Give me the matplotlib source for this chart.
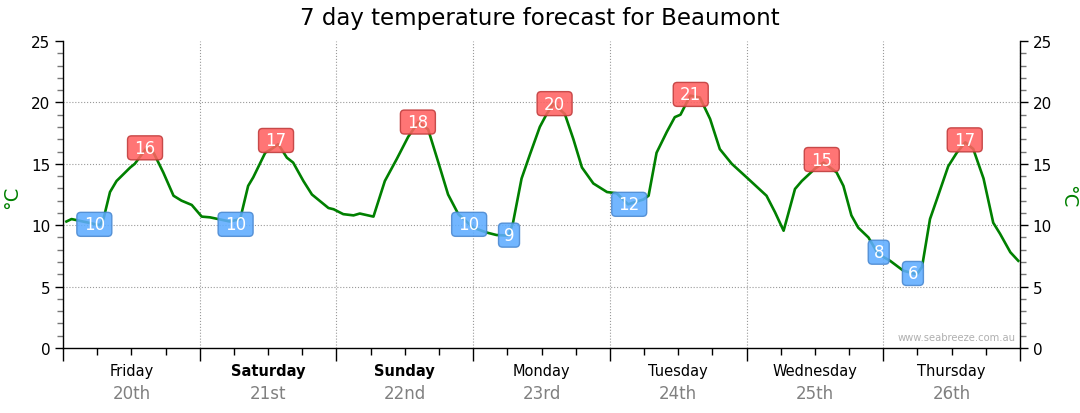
import matplotlib
matplotlib.use("Agg")
import matplotlib.pyplot as plt
import matplotlib.transforms as mtransforms
from matplotlib.patches import FancyBboxPatch
from matplotlib.ticker import MultipleLocator

# hours since Friday 00:00, temperature in degC
hours = [0.6, 1.5, 3.5, 6.5, 7.1, 8.25, 9.4, 11.8, 12.6, 14.7, 15.9, 17.6, 19.4,
         20.8, 22.6, 24.35, 25.8, 29.3, 31.1, 32.5, 33.4, 35.5, 36.6, 37.8, 39.3,
         40.4, 42.2, 43.7, 46.6, 47.5, 49.2, 51.0, 52.1, 54.5, 56.5, 58.6, 60.6,
         62.4, 64.1, 65.9, 67.6, 69.4, 72.0, 74.4, 76.1, 78.2, 79.0, 80.5, 82.0,
         83.7, 84.9, 86.1, 88.1, 89.6, 91.1, 93.1, 95.5, 97.2, 99.2, 101.9, 102.8,
         104.2, 106.0, 107.4, 108.4, 110.1, 111.8, 113.6, 115.3, 117.4, 120.0,
         123.5, 125.0, 126.5, 127.3, 128.5, 129.7, 132.0, 133.5, 135.8, 137.0,
         138.4, 139.6, 141.4, 143.1, 145.2, 147.5, 149.9, 150.8, 152.2, 153.4,
         155.4, 156.9, 158.4, 159.8, 161.6, 163.3, 164.5, 166.3, 167.7]
temps = [10.3, 10.5, 10.3, 10.0, 10.5, 12.7, 13.6, 14.7, 15.0, 16.3, 15.9, 14.3, 12.4,
         12.0, 11.65, 10.7, 10.64, 10.3, 10.5, 13.2, 13.9, 15.9, 16.2, 16.6, 15.5,
         15.1, 13.6, 12.5, 11.4, 11.3, 10.9, 10.8, 10.95, 10.7, 13.6, 15.4, 17.2,
         18.4, 17.8, 15.1, 12.5, 10.9, 9.8, 9.4, 9.2, 9.15, 10.2, 13.8, 15.8,
         18.0, 19.05, 19.9, 19.05, 17.0, 14.7, 13.4, 12.7, 12.6, 11.7, 12.1, 12.4,
         15.9, 17.6, 18.8, 19.0, 20.55, 20.4, 18.65, 16.2, 15.0, 13.9,
         12.4, 11.05, 9.55, 10.9, 12.95, 13.6, 14.6, 15.1, 14.3, 13.2,
         10.8, 9.8, 9.0, 7.65, 7.1, 6.3, 6.0, 6.6, 10.5, 12.1,
         14.8, 15.9, 16.75, 16.2, 13.8, 10.2, 9.3, 7.8, 7.1]

max_hours = [14.4, 37.4, 62.3, 86.3, 110.2, 133.2, 158.3]
max_temps = [16.3, 16.9, 18.4, 19.9, 20.65, 15.35, 16.95]
max_labels = ["16", "17", "18", "20", "21", "15", "17"]

min_hours = [5.5, 30.3, 71.3, 78.3, 99.4, 143.2, 149.2]
min_temps = [10.07, 10.07, 10.07, 9.19, 11.7, 7.8, 6.07]
min_labels = ["10", "10", "10", "9", "12", "8", "6"]

days = ["Friday", "Saturday", "Sunday", "Monday", "Tuesday", "Wednesday", "Thursday"]
dates = ["20th", "21st", "22nd", "23rd", "24th", "25th", "26th"]
weekend = ["Saturday", "Sunday"]

fig = plt.figure(figsize=(10.8, 4.14), dpi=100)
ax = fig.add_axes([63 / 1080, 1 - 349 / 414, 957 / 1080, 307 / 414])

ax.plot(hours, temps, color="#008000", lw=1.9, zorder=3)

for t in [5, 10, 15, 20]:
    ax.axhline(t, color="#999999", ls=":", lw=0.8, zorder=1)
ax.grid(axis="x", which="major", color="#999999", ls=":", lw=0.8, zorder=1)


def add_tag(x, y, text, fc, ec):
    # rounded label box sized in inches, centred on the data point
    w = 0.35 if len(text) > 1 else 0.21
    h = 0.24
    trans = fig.dpi_scale_trans + mtransforms.ScaledTranslation(x, y, ax.transData)
    box = FancyBboxPatch((-w / 2, -h / 2), w, h,
                         boxstyle="round,pad=0,rounding_size=0.04",
                         transform=trans, fc=fc, ec=ec, lw=1.0, alpha=0.88, zorder=4)
    ax.add_patch(box)
    ax.text(x, y, text, ha="center", va="center", color="white",
            fontsize=12, zorder=5)


for x, y, s in zip(max_hours, max_temps, max_labels):
    add_tag(x, y, s, "#ff6262", "#c03a3a")
for x, y, s in zip(min_hours, min_temps, min_labels):
    add_tag(x, y, s, "#5eacff", "#4a88d0")

ax.set_xlim(0, 168)
ax.set_ylim(0, 25)

ax.xaxis.set_major_locator(MultipleLocator(24))
ax.xaxis.set_minor_locator(MultipleLocator(6))
ax.yaxis.set_major_locator(MultipleLocator(5))
ax.yaxis.set_minor_locator(MultipleLocator(1))
ax.tick_params(axis="x", which="major", length=9, width=1, labelbottom=False)
ax.tick_params(axis="x", which="minor", length=5, width=1)
ax.tick_params(axis="y", which="both", left=True, right=True,
               labelleft=True, labelright=True, labelsize=11, pad=3)
ax.tick_params(axis="y", which="major", length=6, width=1)
ax.tick_params(axis="y", which="minor", length=4, width=1, color="#777777")

ax.spines["top"].set_visible(False)
for side in ["left", "right", "bottom"]:
    ax.spines[side].set_linewidth(1)

xt = ax.get_xaxis_transform()
for i, (d, dt) in enumerate(zip(days, dates)):
    ax.text(24 * i + 12, -0.072, d, transform=xt, ha="center", va="center",
            fontsize=10.5, fontweight="bold" if d in weekend else "normal",
            color="black")
    ax.text(24 * i + 12, -0.145, dt, transform=xt, ha="center", va="center",
            fontsize=12, color="#808080")

ax.text(0.995, 0.035, "www.seabreeze.com.au", transform=ax.transAxes,
        ha="right", va="center", fontsize=7.2, color="#b0b0b0")

fig.text(12 / 1080, 1 - 197 / 414, "°C", rotation=90, ha="center", va="center",
         fontsize=14, color="#008000")
fig.text(1068 / 1080, 1 - 197 / 414, "°C", rotation=270, ha="center", va="center",
         fontsize=14, color="#008000")

fig.text(0.5, 1 - 18 / 414, "7 day temperature forecast for Beaumont",
         ha="center", va="center", fontsize=16.5, color="black")

fig.savefig("out.png", dpi=100)
